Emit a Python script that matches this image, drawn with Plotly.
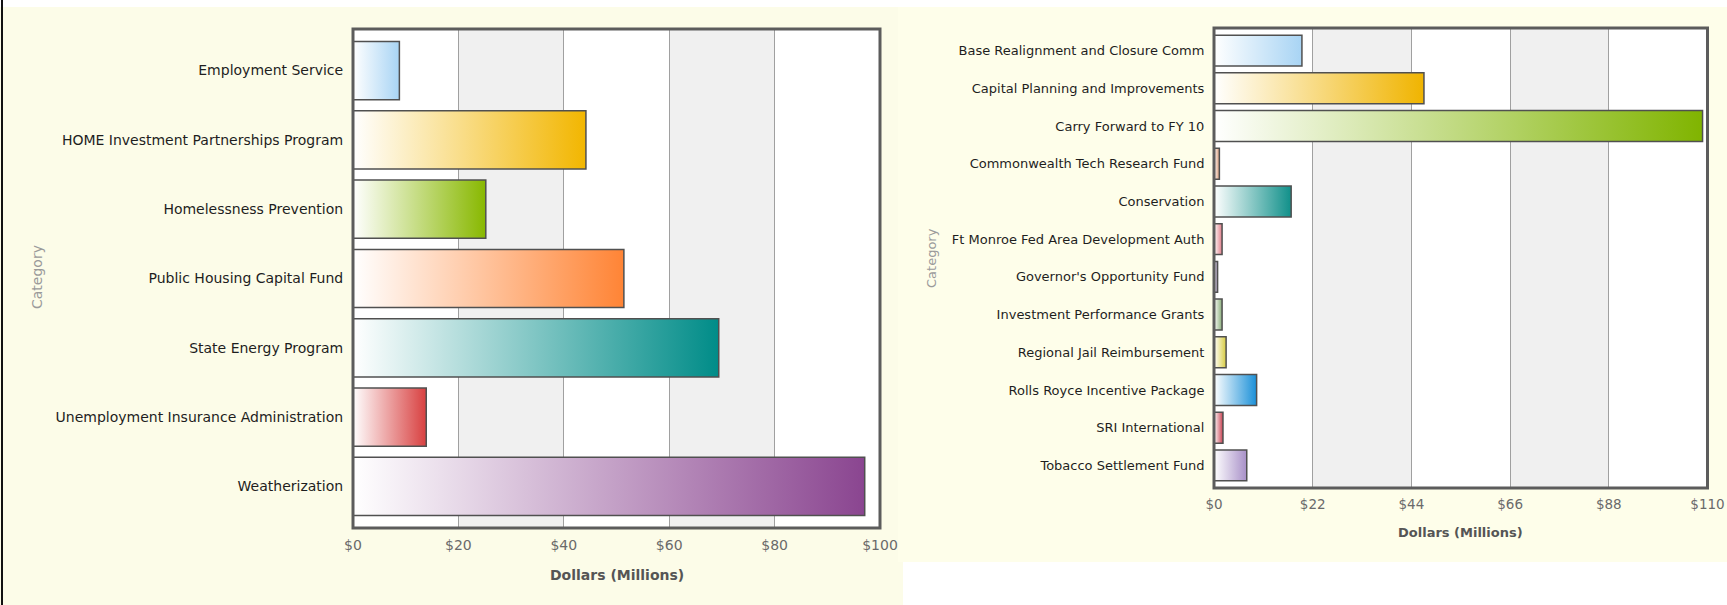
import plotly.graph_objects as go

# ---- data -------------------------------------------------------------
left_categories = [
    "Employment Service",
    "HOME Investment Partnerships Program",
    "Homelessness Prevention",
    "Public Housing Capital Fund",
    "State Energy Program",
    "Unemployment Insurance Administration",
    "Weatherization",
]
left_values = [8.8, 44.2, 25.2, 51.4, 69.4, 13.9, 97.1]
left_colors = ["#A8D4F4", "#F2B600", "#88B800", "#FF8435", "#008C88", "#D84040", "#8A4590"]

right_categories = [
    "Base Realignment and Closure Comm",
    "Capital Planning and Improvements",
    "Carry Forward to FY 10",
    "Commonwealth Tech Research Fund",
    "Conservation",
    "Ft Monroe Fed Area Development Auth",
    "Governor's Opportunity Fund",
    "Investment Performance Grants",
    "Regional Jail Reimbursement",
    "Rolls Royce Incentive Package",
    "SRI International",
    "Tobacco Settlement Fund",
]
right_values = [19.6, 46.8, 108.9, 1.2, 17.2, 1.8, 0.8, 1.8, 2.7, 9.5, 2.0, 7.3]
right_colors = ["#A8D4F4", "#F0B400", "#80B400", "#D89A78", "#10908A", "#E07C88",
                "#8C7CA0", "#88AC78", "#D8CC40", "#1A90D8", "#C84050", "#A890C8"]

left_ticks = [0, 20, 40, 60, 80, 100]
left_tick_labels = ["$0", "$20", "$40", "$60", "$80", "$100"]
right_ticks = [0, 22, 44, 66, 88, 110]
right_tick_labels = ["$0", "$22", "$44", "$66", "$88", "$110"]

# ---- canvas -----------------------------------------------------------
W, H = 1727, 605
FONT = "DejaVu Sans"


def px(x):
    return x / W


def py(y):
    return 1 - y / H


fig = go.Figure()

panels = [
    dict(cats=left_categories, vals=left_values, cols=left_colors,
         ticks=left_ticks, tick_text=left_tick_labels,
         xd=[px(353), px(880)], yd=[py(528), py(29)], half=0.42,
         xa="xaxis", ya="yaxis", xr="x", yr="y", lab=14, tick=14, ttl=14,
         cat_xy=(37, 277), dol_y=575),
    dict(cats=right_categories, vals=right_values, cols=right_colors,
         ticks=right_ticks, tick_text=right_tick_labels,
         xd=[px(1214), px(1707.5)], yd=[py(488), py(28)], half=0.41,
         xa="xaxis2", ya="yaxis2", xr="x2", yr="y2", lab=13, tick=13.5, ttl=13,
         cat_xy=(931, 258), dol_y=532),
]

shapes = [
    # background panels
    dict(type="rect", xref="paper", yref="paper", x0=0, x1=px(903), y0=0, y1=py(7),
         fillcolor="#FCFCE8", line=dict(width=0), layer="below"),
    dict(type="rect", xref="paper", yref="paper", x0=px(898), x1=1, y0=py(562), y1=py(7),
         fillcolor="#FEFEEA", line=dict(width=0), layer="below"),
    dict(type="rect", xref="paper", yref="paper", x0=px(1), x1=px(3), y0=0, y1=1,
         fillcolor="#111111", line=dict(width=0), layer="below"),
]
annotations = []

for p in panels:
    n = len(p["cats"])
    lo, hi = p["ticks"][0], p["ticks"][-1]
    fig.update_layout(**{
        p["xa"]: dict(domain=p["xd"], range=[lo, hi], tickmode="array",
                      tickvals=p["ticks"], ticktext=p["tick_text"],
                      showgrid=True, gridcolor="#A0A0A0", gridwidth=1, zeroline=False,
                      showline=False, ticks="outside", ticklen=4, tickcolor="rgba(0,0,0,0)",
                      tickfont=dict(family=FONT, size=p["tick"], color="#6A6A6A"),
                      anchor=p["yr"], fixedrange=True, automargin=False),
        p["ya"]: dict(domain=p["yd"], range=[n - 1 + 0.6, -0.6], tickvals=list(range(n)),
                      ticktext=p["cats"], showgrid=False, zeroline=False, showline=False,
                      ticks="outside", ticklen=6, tickcolor="rgba(0,0,0,0)",
                      tickfont=dict(family=FONT, size=p["lab"], color="#1E1E1E"),
                      anchor=p["xr"], fixedrange=True, automargin=False),
    })

    # white plot background
    shapes.append(dict(type="rect", xref=f"{p['xr']} domain", yref=f"{p['yr']} domain",
                       x0=0, x1=1, y0=0, y1=1, fillcolor="#FFFFFF",
                       line=dict(width=0), layer="below"))
    # alternating shaded bands between gridlines
    for k in range(1, len(p["ticks"]) - 1, 2):
        shapes.append(dict(type="rect", xref=p["xr"], yref=f"{p['yr']} domain",
                           x0=p["ticks"][k], x1=p["ticks"][k + 1], y0=0, y1=1,
                           fillcolor="#F0F0F0", line=dict(width=0), layer="below"))
    # frame
    shapes.append(dict(type="rect", xref=f"{p['xr']} domain", yref=f"{p['yr']} domain",
                       x0=0, x1=1, y0=0, y1=1, fillcolor="rgba(0,0,0,0)",
                       line=dict(color="#5C5C5C", width=3), layer="above"))

    # gradient bars
    h = p["half"]
    for i, (v, c) in enumerate(zip(p["vals"], p["cols"])):
        fig.add_trace(go.Scatter(
            x=[0, v, v, 0, 0], y=[i - h, i - h, i + h, i + h, i - h],
            mode="lines", fill="toself",
            fillgradient=dict(type="horizontal", colorscale=[[0, "#FFFFFF"], [1, c]]),
            line=dict(color="#505050", width=1.5),
            xaxis=p["xr"], yaxis=p["yr"], hoverinfo="skip", showlegend=False,
        ))

    cx, cy = p["cat_xy"]
    annotations.append(dict(text="Category", xref="paper", yref="paper", x=px(cx), y=py(cy),
                            showarrow=False, textangle=-90, xanchor="center", yanchor="middle",
                            font=dict(family=FONT, size=p["ttl"], color="#9A9A9A")))
    annotations.append(dict(text="<b>Dollars (Millions)</b>", xref="paper", yref="paper",
                            x=(p["xd"][0] + p["xd"][1]) / 2, y=py(p["dol_y"]),
                            showarrow=False, xanchor="center", yanchor="middle",
                            font=dict(family=FONT, size=p["ttl"], color="#555555")))

fig.update_layout(
    width=W, height=H, autosize=False,
    margin=dict(l=0, r=0, t=0, b=0, pad=0, autoexpand=False),
    paper_bgcolor="#FFFFFF", plot_bgcolor="rgba(0,0,0,0)",
    shapes=shapes, annotations=annotations, showlegend=False,
)

# page without default body margin so the figure fills the window exactly
fig.write_html(
    "out.html",
    config={"displayModeBar": False},
    post_script="document.body.style.margin='0';document.body.style.overflow='hidden';",
)
